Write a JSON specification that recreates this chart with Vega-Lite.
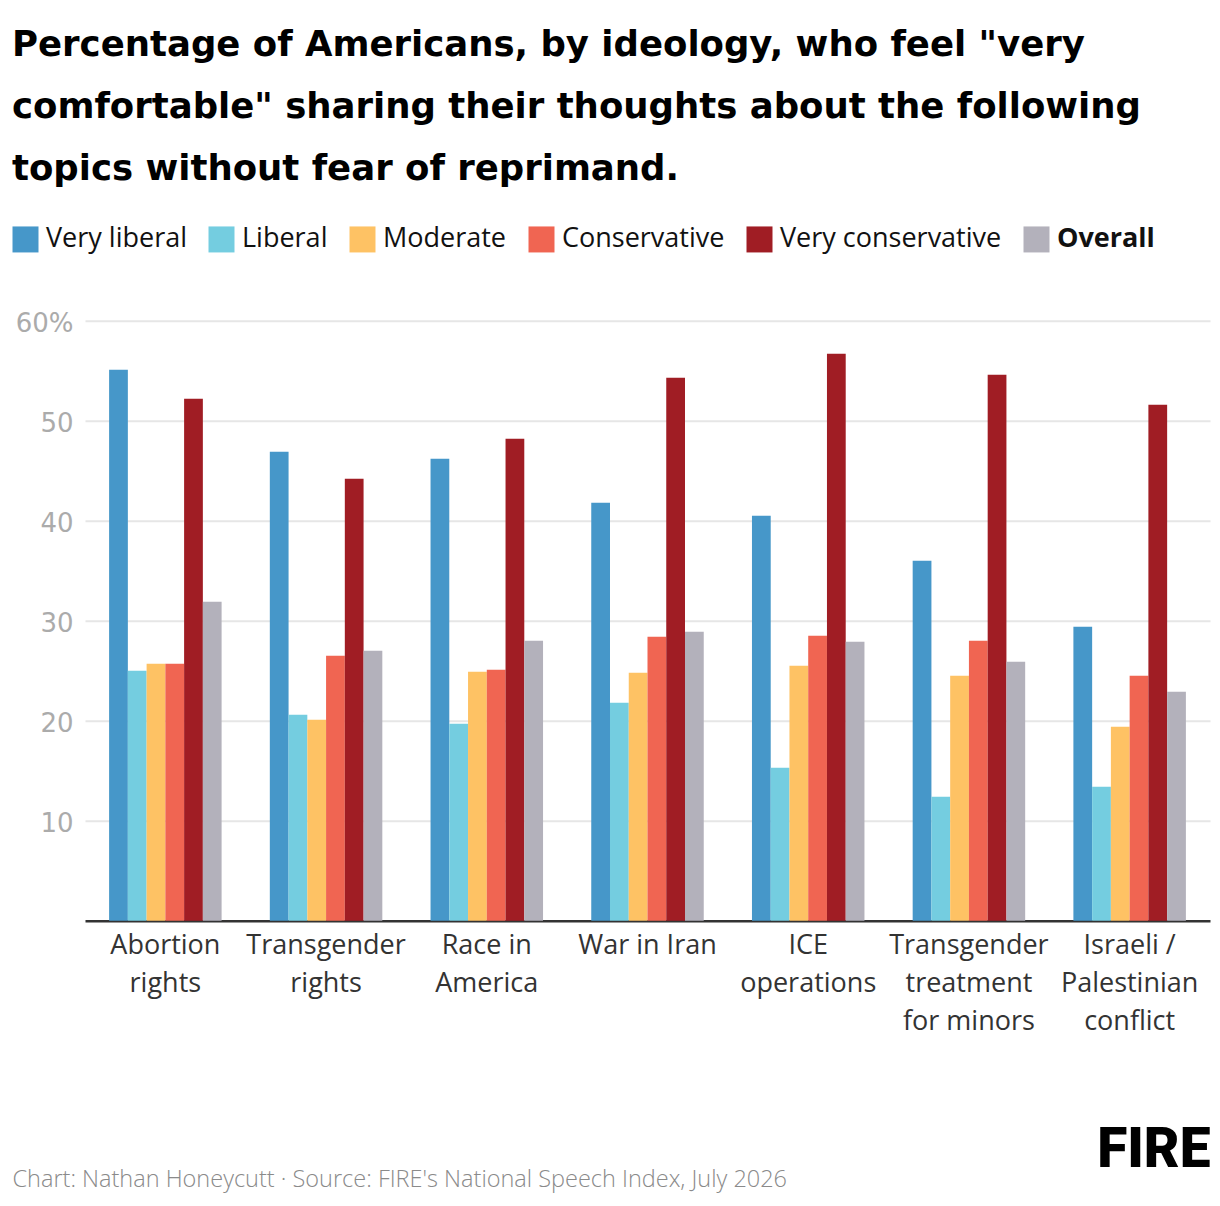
{
  "$schema": "https://vega.github.io/schema/vega-lite/v6.json",
  "background": "white",
  "autosize": {"type": "none"},
  "padding": {"left": 85, "top": 320.7, "right": 10, "bottom": 285.3},
  "width": 1125,
  "height": 600,
  "title": {
    "text": [
      "Percentage of Americans, by ideology, who feel \"very",
      "comfortable\" sharing their thoughts about the following",
      "topics without fear of reprimand."
    ],
    "anchor": "start",
    "frame": "group",
    "dx": -73,
    "font": "DejaVu Sans",
    "fontSize": 35.5,
    "fontWeight": "bold",
    "lineHeight": 62,
    "color": "#000000",
    "offset": 38
  },
  "data": {
    "values": [
      {"topic": "Abortion rights", "ideology": "Very liberal", "pct": 55.1},
      {"topic": "Abortion rights", "ideology": "Liberal", "pct": 25.0},
      {"topic": "Abortion rights", "ideology": "Moderate", "pct": 25.7},
      {"topic": "Abortion rights", "ideology": "Conservative", "pct": 25.7},
      {"topic": "Abortion rights", "ideology": "Very conservative", "pct": 52.2},
      {"topic": "Abortion rights", "ideology": "Overall", "pct": 31.9},
      {"topic": "Transgender rights", "ideology": "Very liberal", "pct": 46.9},
      {"topic": "Transgender rights", "ideology": "Liberal", "pct": 20.6},
      {"topic": "Transgender rights", "ideology": "Moderate", "pct": 20.1},
      {"topic": "Transgender rights", "ideology": "Conservative", "pct": 26.5},
      {"topic": "Transgender rights", "ideology": "Very conservative", "pct": 44.2},
      {"topic": "Transgender rights", "ideology": "Overall", "pct": 27.0},
      {"topic": "Race in America", "ideology": "Very liberal", "pct": 46.2},
      {"topic": "Race in America", "ideology": "Liberal", "pct": 19.7},
      {"topic": "Race in America", "ideology": "Moderate", "pct": 24.9},
      {"topic": "Race in America", "ideology": "Conservative", "pct": 25.1},
      {"topic": "Race in America", "ideology": "Very conservative", "pct": 48.2},
      {"topic": "Race in America", "ideology": "Overall", "pct": 28.0},
      {"topic": "War in Iran", "ideology": "Very liberal", "pct": 41.8},
      {"topic": "War in Iran", "ideology": "Liberal", "pct": 21.8},
      {"topic": "War in Iran", "ideology": "Moderate", "pct": 24.8},
      {"topic": "War in Iran", "ideology": "Conservative", "pct": 28.4},
      {"topic": "War in Iran", "ideology": "Very conservative", "pct": 54.3},
      {"topic": "War in Iran", "ideology": "Overall", "pct": 28.9},
      {"topic": "ICE operations", "ideology": "Very liberal", "pct": 40.5},
      {"topic": "ICE operations", "ideology": "Liberal", "pct": 15.3},
      {"topic": "ICE operations", "ideology": "Moderate", "pct": 25.5},
      {"topic": "ICE operations", "ideology": "Conservative", "pct": 28.5},
      {"topic": "ICE operations", "ideology": "Very conservative", "pct": 56.7},
      {"topic": "ICE operations", "ideology": "Overall", "pct": 27.9},
      {"topic": "Transgender treatment for minors", "ideology": "Very liberal", "pct": 36.0},
      {"topic": "Transgender treatment for minors", "ideology": "Liberal", "pct": 12.4},
      {"topic": "Transgender treatment for minors", "ideology": "Moderate", "pct": 24.5},
      {"topic": "Transgender treatment for minors", "ideology": "Conservative", "pct": 28.0},
      {"topic": "Transgender treatment for minors", "ideology": "Very conservative", "pct": 54.6},
      {"topic": "Transgender treatment for minors", "ideology": "Overall", "pct": 25.9},
      {"topic": "Israeli / Palestinian conflict", "ideology": "Very liberal", "pct": 29.4},
      {"topic": "Israeli / Palestinian conflict", "ideology": "Liberal", "pct": 13.4},
      {"topic": "Israeli / Palestinian conflict", "ideology": "Moderate", "pct": 19.4},
      {"topic": "Israeli / Palestinian conflict", "ideology": "Conservative", "pct": 24.5},
      {"topic": "Israeli / Palestinian conflict", "ideology": "Very conservative", "pct": 51.6},
      {"topic": "Israeli / Palestinian conflict", "ideology": "Overall", "pct": 22.9}
    ]
  },
  "mark": {"type": "bar"},
  "encoding": {
    "x": {
      "field": "topic",
      "type": "nominal",
      "sort": null,
      "scale": {"paddingInner": 0.3, "paddingOuter": 0.15},
      "axis": {
        "title": "Chart: Nathan Honeycutt \u00b7 Source: FIRE's National Speech Index, July 2026",
        "titleFont": "Open Sans",
        "titleFontSize": 23.5,
        "titleFontWeight": 300,
        "titleColor": "#8a8a8a",
        "titleAnchor": "start",
        "titleAlign": "left",
        "titleBaseline": "alphabetic",
        "titleX": -73,
        "titleY": 266,
        "labelAngle": 0,
        "labelFont": "Open Sans",
        "labelFontSize": 27,
        "labelColor": "#333333",
        "labelLineHeight": 38,
        "labelPadding": 12,
        "labelBaseline": "top",
        "labelLimit": 300,
        "ticks": false,
        "domainColor": "#333333",
        "domainWidth": 2.5,
        "labelExpr": "datum.value == 'Abortion rights' ? ['Abortion', 'rights'] : datum.value == 'Transgender rights' ? ['Transgender', 'rights'] : datum.value == 'Race in America' ? ['Race in', 'America'] : datum.value == 'ICE operations' ? ['ICE', 'operations'] : datum.value == 'Transgender treatment for minors' ? ['Transgender', 'treatment', 'for minors'] : datum.value == 'Israeli / Palestinian conflict' ? ['Israeli /', 'Palestinian', 'conflict'] : datum.label"
      }
    },
    "xOffset": {
      "field": "ideology",
      "type": "nominal",
      "sort": ["Very liberal", "Liberal", "Moderate", "Conservative", "Very conservative", "Overall"],
      "scale": {"paddingInner": 0, "paddingOuter": 0}
    },
    "y": {
      "field": "pct",
      "type": "quantitative",
      "scale": {"domain": [0, 60], "nice": false},
      "axis": {
        "title": "FIRE",
        "titleFont": "Roboto",
        "titleFontSize": 55,
        "titleFontWeight": 900,
        "titleColor": "#000000",
        "titleAngle": 0,
        "titleAlign": "right",
        "titleBaseline": "alphabetic",
        "titleX": 1125,
        "titleY": 846,
        "values": [10, 20, 30, 40, 50, 60],
        "labelExpr": "datum.value == 60 ? '60%' : datum.label",
        "labelFont": "DejaVu Sans",
        "labelFontSize": 26,
        "labelColor": "#ababab",
        "labelOffset": 3,
        "labelPadding": 12,
        "domain": false,
        "ticks": false,
        "gridColor": "#e6e6e6",
        "gridWidth": 2
      }
    },
    "color": {
      "field": "ideology",
      "type": "nominal",
      "sort": ["Very liberal", "Liberal", "Moderate", "Conservative", "Very conservative", "Overall"],
      "scale": {
        "domain": ["Very liberal", "Liberal", "Moderate", "Conservative", "Very conservative", "Overall"],
        "range": ["#4697c9", "#74cde0", "#fec264", "#f06552", "#a01d24", "#b3b1bb"]
      },
      "legend": {
        "title": null,
        "orient": "none",
        "direction": "horizontal",
        "legendX": -73,
        "legendY": -95,
        "symbolType": "square",
        "symbolSize": 676,
        "symbolStrokeWidth": 0,
        "symbolOpacity": 1,
        "labelFont": "Open Sans",
        "labelFontSize": 27,
        "labelColor": "#111111",
        "labelFontWeight": {"expr": "datum.label == 'Overall' ? 'bold' : 'normal'"},
        "labelOffset": 7,
        "labelLimit": 400,
        "columnPadding": 21,
        "padding": 0
      }
    }
  },
  "config": {
    "view": {"stroke": null}
  }
}
